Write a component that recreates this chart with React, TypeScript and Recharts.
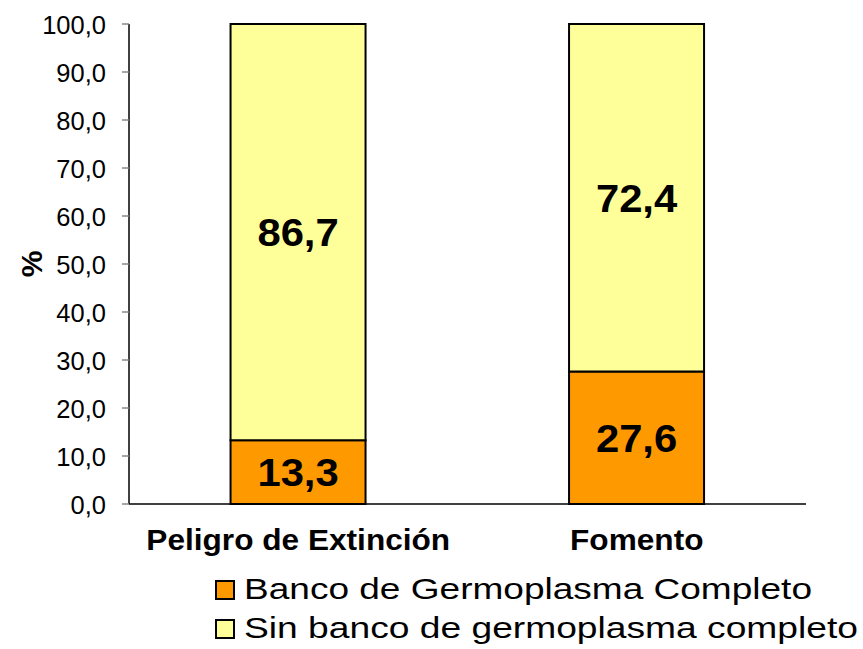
import React from 'react';
import { BarChart, Bar, XAxis, YAxis, LabelList } from 'recharts';

const categories = ['Peligro de Extinción', 'Fomento'];
const bancoCompleto = [13.3, 27.6];
const sinBanco = [86.7, 72.4];
const yTicks = [0, 10, 20, 30, 40, 50, 60, 70, 80, 90, 100];
const seriesNames = ['Banco de Germoplasma Completo', 'Sin banco de germoplasma completo'];
const colors = ['#FF9900', '#FFFF99'];

const data = categories.map((c, i) => ({ name: c, banco: bancoCompleto[i], sin: sinBanco[i] }));

const FONT = '"Liberation Sans", Arial, sans-serif';
const fmt = (v: number) => v.toFixed(1).replace('.', ',');

const YTick = (props: any) => {
  const { x, y, payload } = props;
  return (
    <g transform={`translate(${x - 14},${y + 1})`}>
      <text transform="scale(1.02,1)" textAnchor="end" dominantBaseline="central" fontSize={25} fontFamily={FONT} fill="#000">
        {fmt(payload.value)}
      </text>
    </g>
  );
};

const XTick = (props: any) => {
  const { x, y, payload } = props;
  return (
    <g transform={`translate(${x},${y + 28})`}>
      <text transform="scale(1.09,1)" textAnchor="middle" dominantBaseline="central" fontSize={29} fontWeight="bold" fontFamily={FONT} fill="#000">
        {payload.value}
      </text>
    </g>
  );
};

const ValueLabel = (props: any) => {
  const { x, y, width, height, value } = props;
  return (
    <g transform={`translate(${x + width / 2},${y + height / 2 + 1})`}>
      <text transform="scale(1.1,1)" textAnchor="middle" dominantBaseline="central" fontSize={38} fontWeight="bold" fontFamily={FONT} fill="#000">
        {fmt(Number(value))}
      </text>
    </g>
  );
};

export default function App() {
  return (
    <div style={{ position: 'absolute', left: 0, top: 0, width: 863, height: 649, background: '#fff' }}>
      <BarChart
        width={863}
        height={649}
        data={data}
        margin={{ top: 24, right: 57, left: 0, bottom: 0 }}
        barCategoryGap="30%"
      >
        <XAxis
          dataKey="name"
          height={145}
          axisLine={{ stroke: '#000', strokeWidth: 1.5 }}
          tickLine={false}
          tick={<XTick />}
          interval={0}
        />
        <YAxis
          width={129}
          domain={[0, 100]}
          ticks={yTicks}
          interval={0}
          axisLine={{ stroke: '#000', strokeWidth: 1.5 }}
          tickLine={{ stroke: '#888', strokeWidth: 1.5 }}
          tickSize={7}
          tick={<YTick />}
          label={{
            value: '%',
            angle: -90,
            position: 'insideLeft',
            offset: 0,
            content: (p: any) => {
              const vb = p.viewBox;
              const cy = vb.y + vb.height / 2;
              return (
                <text x={31} y={cy} transform={`rotate(-90,31,${cy})`} textAnchor="middle" dominantBaseline="central" fontSize={30} fontWeight="bold" fontFamily={FONT} fill="#000">%</text>
              );
            },
          }}
        />
        <Bar dataKey="banco" stackId="a" fill={colors[0]} stroke="#000" strokeWidth={2} isAnimationActive={false}>
          <LabelList dataKey="banco" content={<ValueLabel />} />
        </Bar>
        <Bar dataKey="sin" stackId="a" fill={colors[1]} stroke="#000" strokeWidth={2} isAnimationActive={false}>
          <LabelList dataKey="sin" content={<ValueLabel />} />
        </Bar>
      </BarChart>
      <svg width={863} height={649} style={{ position: 'absolute', left: 0, top: 0, pointerEvents: 'none' }}>
        <rect x={216} y={581} width={18} height={18} fill={colors[0]} stroke="#000" strokeWidth={2} />
        <text x={244} y={599} fontSize={30} fontFamily={FONT} fill="#000" textLength={568} lengthAdjust="spacingAndGlyphs">
          {seriesNames[0]}
        </text>
        <rect x={216} y={620} width={18} height={18} fill={colors[1]} stroke="#000" strokeWidth={2} />
        <text x={244} y={638} fontSize={30} fontFamily={FONT} fill="#000" textLength={614} lengthAdjust="spacingAndGlyphs">
          {seriesNames[1]}
        </text>
      </svg>
    </div>
  );
}
